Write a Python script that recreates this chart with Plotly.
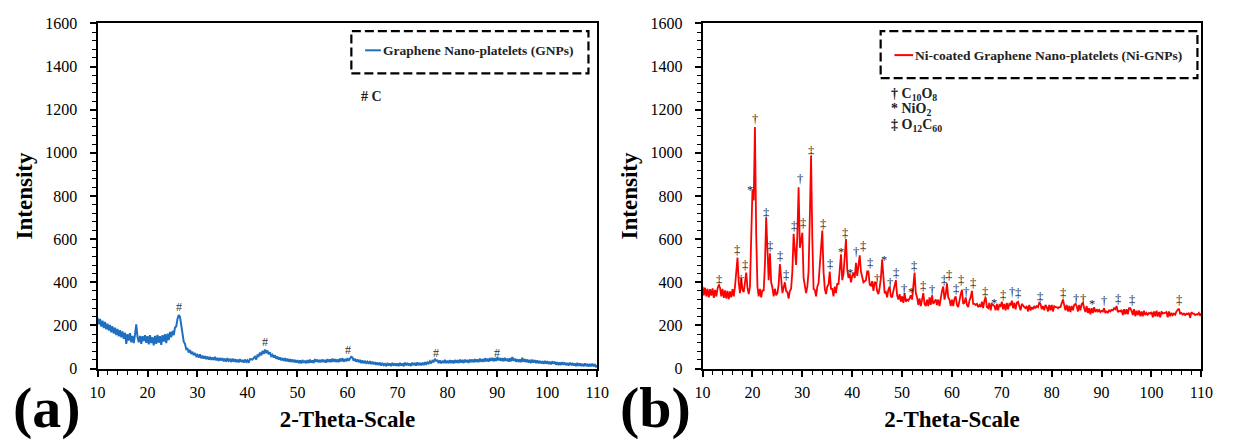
import numpy as np
import plotly.graph_objects as go

# 2-theta grid (degrees), 0.25 deg steps from 10 to 110
two_theta = np.round(np.arange(10, 110.001, 0.25), 2)

# Graphene nano-platelets (GNPs) intensity
gnp_intensity = [
    235, 205, 230, 195, 222, 188, 216, 182, 208, 176, 202, 168, 196, 162, 190, 155, 184, 150, 178, 145,
    172, 138, 166, 115, 160, 130, 164, 122, 152, 118, 157, 205, 147, 122, 152, 115, 150, 128, 155, 120,
    150, 112, 155, 118, 145, 108, 152, 115, 156, 120, 150, 110, 155, 125, 160, 118, 162, 132, 170, 145,
    175, 155, 190, 195, 230, 248, 240, 195, 165, 125, 115, 90, 92, 75, 86, 68, 78, 62, 72, 58,
    64, 51, 66, 48, 60, 46, 58, 44, 56, 42, 54, 41, 52, 40, 54, 38, 50, 36, 49, 38,
    48, 34, 46, 32, 49, 36, 42, 31, 46, 32, 44, 30, 42, 29, 44, 31, 40, 28, 42, 31,
    38, 27, 44, 42, 42, 50, 55, 42, 62, 58, 74, 61, 82, 68, 88, 72, 84, 66, 76, 58,
    64, 51, 62, 46, 56, 42, 52, 38, 49, 36, 48, 34, 46, 32, 44, 31, 42, 30, 40, 28,
    39, 26, 38, 24, 40, 27, 37, 25, 39, 26, 42, 28, 38, 26, 44, 32, 42, 29, 40, 30,
    42, 30, 40, 28, 44, 31, 42, 30, 46, 32, 44, 31, 42, 30, 46, 34, 48, 32, 44, 34,
    49, 36, 46, 55, 52, 36, 46, 32, 42, 30, 40, 26, 38, 24, 36, 26, 32, 22, 34, 21,
    32, 20, 30, 18, 29, 16, 28, 14, 26, 16, 22, 11, 26, 14, 24, 12, 26, 14, 24, 13,
    24, 12, 26, 14, 24, 11, 28, 15, 26, 14, 24, 12, 28, 16, 26, 14, 29, 16, 26, 15,
    28, 16, 30, 18, 29, 24, 34, 24, 36, 32, 45, 36, 38, 26, 38, 24, 36, 26, 40, 26,
    37, 25, 39, 26, 38, 24, 40, 27, 39, 26, 42, 28, 40, 26, 42, 29, 40, 27, 42, 30,
    42, 29, 44, 31, 42, 30, 46, 32, 44, 31, 48, 34, 46, 32, 49, 36, 50, 34, 48, 36,
    52, 38, 49, 36, 48, 34, 50, 36, 46, 32, 48, 34, 54, 36, 46, 32, 44, 31, 42, 30,
    50, 32, 44, 30, 42, 28, 40, 26, 42, 28, 39, 26, 38, 24, 36, 24, 34, 22, 36, 23,
    34, 21, 32, 20, 34, 22, 32, 18, 30, 16, 29, 17, 30, 18, 28, 16, 26, 14, 28, 16,
    26, 14, 24, 12, 26, 13, 24, 12, 22, 11, 24, 12, 22, 10, 21, 11, 23, 10, 20, 9,
    15,
]

# Ni-coated graphene nano-platelets (Ni-GNPs) intensity
ni_gnp_intensity = [
    380, 340, 375, 335, 370, 330, 368, 338, 372, 328, 365, 335, 370, 388, 375, 335, 370, 328, 362, 325,
    360, 322, 358, 330, 368, 335, 380, 470, 515, 400, 350, 420, 365, 355, 400, 445, 375, 345, 380, 560,
    830, 780, 1120, 620, 380, 335, 370, 330, 365, 360, 480, 700, 520, 410, 535, 400, 375, 335, 370, 340,
    350, 390, 485, 390, 350, 375, 400, 360, 355, 325, 360, 370, 450, 625, 560, 480, 620, 840, 560, 590,
    630, 420, 370, 350, 380, 450, 700, 985, 600, 370, 365, 335, 380, 395, 480, 580, 640, 450, 370, 345,
    380, 390, 450, 370, 370, 335, 380, 350, 395, 390, 450, 530, 410, 440, 520, 600, 460, 420, 440, 400,
    430, 445, 420, 490, 430, 470, 525, 450, 420, 400, 405, 410, 450, 450, 390, 385, 405, 360, 400, 400,
    360, 345, 375, 420, 505, 410, 350, 355, 330, 365, 380, 335, 330, 360, 395, 410, 340, 320, 345, 310,
    335, 305, 350, 310, 320, 315, 325, 340, 320, 380, 445, 350, 330, 295, 325, 290, 330, 350, 300, 290,
    320, 290, 330, 295, 340, 300, 310, 320, 295, 320, 290, 330, 360, 380, 320, 345, 395, 330, 320, 290,
    320, 290, 325, 335, 295, 285, 320, 345, 365, 300, 305, 330, 295, 285, 315, 330, 360, 300, 300, 295,
    300, 285, 295, 285, 310, 280, 315, 330, 285, 280, 305, 270, 300, 295, 290, 270, 300, 270, 295, 290,
    310, 275, 300, 270, 305, 275, 300, 295, 315, 280, 305, 275, 305, 310, 285, 270, 300, 290, 285, 280,
    290, 265, 295, 270, 285, 275, 290, 280, 290, 285, 305, 300, 275, 290, 270, 295, 285, 265, 295, 270,
    295, 265, 290, 285, 285, 280, 285, 285, 305, 320, 295, 270, 295, 265, 290, 262, 290, 270, 295, 300,
    290, 265, 295, 270, 300, 305, 280, 262, 290, 258, 280, 252, 280, 258, 285, 262, 275, 265, 272, 262,
    268, 265, 280, 258, 265, 260, 270, 265, 272, 270, 280, 275, 290, 262, 268, 265, 272, 248, 275, 252,
    275, 252, 280, 280, 268, 248, 275, 243, 268, 248, 270, 243, 265, 242, 268, 248, 258, 250, 258, 255,
    262, 238, 265, 243, 268, 241, 262, 238, 265, 255, 258, 258, 262, 238, 265, 243, 258, 248, 255, 250,
    265, 270, 278, 255, 258, 250, 255, 248, 255, 252, 258, 236, 262, 255, 255, 248, 252, 250, 258, 248,
    255,
]

# Carbon (#) reflections marked on the GNP pattern
gnp_mark_x = [26.3, 43.6, 60.1, 77.7, 90.0]
gnp_mark_y = [285, 123, 86, 71, 74]

# Phase marks on the Ni-GNP pattern: † C10O8, * NiO2, ‡ O12C60
ni_mark_x = [13.3, 16.9, 17.8, 18.5, 19.5, 20.5, 22.8, 23.5, 25.6, 26.7, 28.3, 29.5, 30.2, 31.8,
             34.1, 35.6, 37.8, 38.6, 39.5, 40.8, 42.1, 43.5, 44.9, 46.4, 47.6, 48.8, 50.4, 51.8,
             52.3, 54.2, 56.0, 58.4, 59.4, 60.8, 61.9, 62.8, 64.3, 66.7, 68.4, 70.2, 72.1, 73.3,
             77.7, 82.3, 84.8, 86.3, 88.0, 90.5, 93.2, 96.1, 105.6]
ni_mark_y = [411, 549, 410, 481, 842, 1159, 723, 566, 521, 432, 661, 881, 673, 1007,
             668, 483, 554, 628, 455, 539, 566, 490, 414, 517, 398, 441, 370, 370,
             477, 383, 365, 411, 434, 367, 410, 356, 398, 353, 316, 339, 353, 351,
             331, 352, 322, 322, 312, 312, 322, 316, 316]
ni_mark_sym = ["‡", "‡", "†", "‡", "*", "†", "‡", "‡", "‡", "‡", "‡", "†", "‡", "‡",
               "‡", "‡", "*", "‡", "*", "†", "‡", "‡", "†", "*", "†", "‡", "†", "*",
               "‡", "‡", "†", "‡", "‡", "‡", "‡", "†", "‡", "‡", "*", "‡", "†", "‡",
               "‡", "‡", "†", "†", "*", "†", "‡", "‡", "‡"]

x_ticks = list(range(10, 111, 10))
y_ticks = list(range(0, 1601, 200))

W, H = 1236, 443
SERIF = "Liberation Serif"
BLUE = "#1F6FC0"
RED = "#FF0000"


def px(x):
    return x / W


def py(y):
    return 1 - y / H


fig = go.Figure()
fig.add_trace(go.Scatter(x=two_theta, y=gnp_intensity, mode="lines",
                         line=dict(color=BLUE, width=2),
                         name="Graphene Nano-platelets (GNPs)",
                         xaxis="x", yaxis="y", showlegend=False))
fig.add_trace(go.Scatter(x=two_theta, y=ni_gnp_intensity, mode="lines",
                         line=dict(color=RED, width=1.8),
                         name="Ni-coated Graphene Nano-platelets (Ni-GNPs)",
                         xaxis="x2", yaxis="y2", showlegend=False))

ydom = [py(375), py(16)]
xaxis_common = dict(range=[10, 110], tickvals=x_ticks, ticks="outside", ticklen=6, tickwidth=1.5,
                    tickcolor="black", showline=True, linecolor="black", linewidth=2, mirror=True,
                    showgrid=False, zeroline=False, ticklabelstandoff=2,
                    tickfont=dict(family=SERIF, size=16, color="black"),
                    minor=dict(dtick=2, tick0=10, ticks="outside", ticklen=4, tickwidth=1.2,
                               tickcolor="black", showgrid=False),
                    title=dict(text="<b>2-Theta-Scale</b>",
                               font=dict(family=SERIF, size=23, color="black"), standoff=11))
yaxis_common = dict(range=[0, 1600], tickvals=y_ticks, ticks="outside", ticklen=6, tickwidth=1.5,
                    tickcolor="black", showline=True, linecolor="black", linewidth=2, mirror=True,
                    showgrid=False, zeroline=False, ticklabelstandoff=9,
                    tickfont=dict(family=SERIF, size=16, color="black"),
                    minor=dict(dtick=40, tick0=0, ticks="outside", ticklen=4, tickwidth=1.2,
                               tickcolor="black", showgrid=False),
                    title=dict(text="<b>Intensity</b>",
                               font=dict(family=SERIF, size=23, color="black"), standoff=6))

fig.update_layout(
    width=W, height=H,
    margin=dict(l=0, r=0, t=0, b=0),
    paper_bgcolor="white", plot_bgcolor="white",
    font=dict(family=SERIF),
    xaxis=dict(domain=[px(91), px(599)], anchor="y", **xaxis_common),
    yaxis=dict(domain=ydom, anchor="x", **yaxis_common),
    xaxis2=dict(domain=[px(706), px(1213)], anchor="y2", **xaxis_common),
    yaxis2=dict(domain=ydom, anchor="x2", **yaxis_common),
)

shapes = []
annotations = []

# legend boxes (dashed) with line samples
for (bx0, by0, bx1, by1, lx0, lx1, ly, color, label) in [
    (349, 24, 590, 68, 363, 379, 44, BLUE, "Graphene Nano-platelets (GNPs)"),
    (887, 24, 1209, 73, 901, 920, 49, RED, "Ni-coated Graphene Nano-platelets (Ni-GNPs)"),
]:
    shapes.append(dict(type="rect", xref="paper", yref="paper",
                       x0=px(bx0), x1=px(bx1), y0=py(by1), y1=py(by0),
                       line=dict(color="black", width=2.2, dash="9px,4px")))
    shapes.append(dict(type="line", xref="paper", yref="paper",
                       x0=px(lx0), x1=px(lx1), y0=py(ly), y1=py(ly),
                       line=dict(color=color, width=2)))
    annotations.append(dict(xref="paper", yref="paper", x=px(lx1), y=py(ly),
                            xanchor="left", yanchor="middle", showarrow=False,
                            text=f"<b>{label}</b>",
                            font=dict(family=SERIF, size=13.5, color="#222")))

# phase keys
annotations.append(dict(xref="paper", yref="paper", x=px(357), y=py(92),
                        xanchor="left", yanchor="middle", showarrow=False,
                        text="<b># C</b>", font=dict(family=SERIF, size=14, color="#222")))
for i, t in enumerate(["† C<sub>10</sub>O<sub>8</sub>", "* NiO<sub>2</sub>",
                       "‡ O<sub>12</sub>C<sub>60</sub>"]):
    annotations.append(dict(xref="paper", yref="paper", x=px(895), y=py(90 + 16 * i),
                            xanchor="left", yanchor="middle", showarrow=False,
                            text=f"<b>{t}</b>", font=dict(family=SERIF, size=14, color="#222")))

# peak marks
for x, y in zip(gnp_mark_x, gnp_mark_y):
    annotations.append(dict(xref="x", yref="y", x=x, y=y, text="#", showarrow=False,
                            font=dict(family=SERIF, size=12, color="#333")))
for x, y, s in zip(ni_mark_x, ni_mark_y, ni_mark_sym):
    annotations.append(dict(xref="x2", yref="y2", x=x, y=y, text=s, showarrow=False,
                            yshift=-3 if s == "*" else 0, borderpad=0,
                            font=dict(family=SERIF, size=12.5, color="#222")))

# panel letters
for label, cx in [("(a)", 40), ("(b)", 658)]:
    annotations.append(dict(xref="paper", yref="paper", x=px(cx), y=py(415),
                            xanchor="center", yanchor="middle", showarrow=False,
                            text=f"<b>{label}</b>",
                            font=dict(family=SERIF, size=58, color="black")))

fig.update_layout(shapes=shapes, annotations=annotations)
fig.write_html("out.html")
